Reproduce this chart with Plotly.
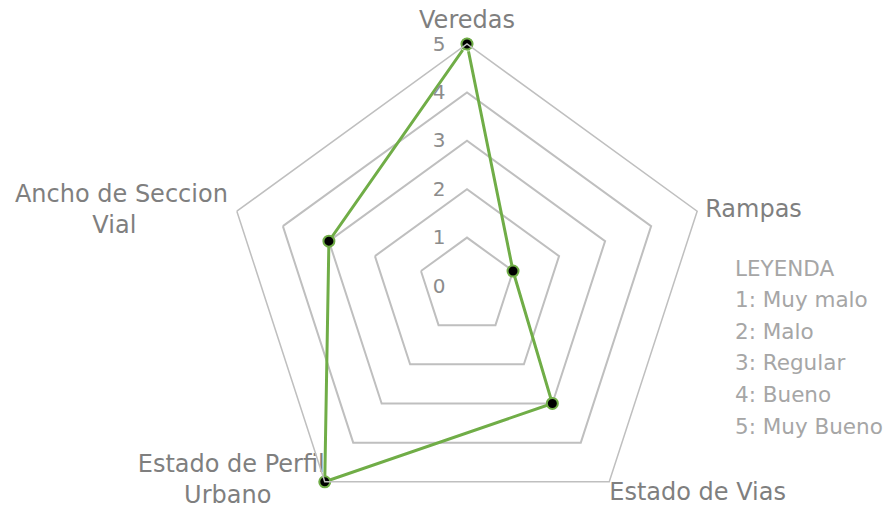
import plotly.graph_objects as go

categories = ["Veredas", "Rampas", "Estado de Vias", "Estado de Perfil Urbano", "Ancho de Seccion Vial"]
category_labels = ["Veredas", "Rampas", "Estado de Vias",
                   "Estado de Perfil<br>" + "\u00a0" * 7 + "Urbano" + "\u00a0" * 7,
                   "Ancho de Seccion<br>" + "\u00a0" * 12 + "Vial" + "\u00a0" * 12]
values = [5, 1, 3, 5, 3]
radial_ticks = [0, 1, 2, 3, 4, 5]
legend_lines = ["LEYENDA", "1: Muy malo", "2: Malo", "3: Regular", "4: Bueno", "5: Muy Bueno"]

# label styling (offsets from the outer vertices)
label_positions = ["top center", "middle right", "bottom right", "middle left", "middle left"]
label_pad_sizes = [14.4, 11.2, 0, 0, 12.8]

W, H = 892, 530
FONT = "DejaVu Sans"
GREEN = "#70AD47"
GRID = "#BFBFBF"
RMAX = radial_ticks[-1]

fig = go.Figure()
fig.add_trace(go.Scatterpolar(
    r=values + values[:1],
    theta=categories + categories[:1],
    mode="lines+markers",
    line=dict(color=GREEN, width=3),
    marker=dict(color="black", size=11, line=dict(color=GREEN, width=2)),
    showlegend=False,
    hoverinfo="skip",
    cliponaxis=False,
))
fig.add_trace(go.Scatterpolar(
    r=[RMAX] * len(categories),
    theta=categories,
    mode="markers+text",
    text=category_labels,
    textposition=label_positions,
    marker=dict(size=label_pad_sizes, color="rgba(0,0,0,0)"),
    textfont=dict(family=FONT, size=24, color="#7F7F7F"),
    showlegend=False,
    hoverinfo="skip",
    cliponaxis=False,
))

cx, cy, R = 459, 278, 242
fig.update_layout(
    width=W, height=H,
    margin=dict(l=0, r=0, t=0, b=0),
    paper_bgcolor="white",
    plot_bgcolor="white",
    polar=dict(
        domain=dict(x=[(cx - R) / W, (cx + R) / W], y=[(H - cy - R) / H, (H - cy + R) / H]),
        gridshape="linear",
        bgcolor="white",
        radialaxis=dict(
            range=[0, RMAX],
            tickvals=radial_ticks,
            ticktext=[str(t) for t in radial_ticks],
            angle=90,
            tickangle=90,
            side="counterclockwise",
            showline=False,
            showgrid=True,
            gridcolor=GRID,
            gridwidth=1.5,
            ticks="outside",
            ticklen=14,
            tickcolor="rgba(0,0,0,0)",
            tickfont=dict(family=FONT, size=20, color="#8C8C8C"),
        ),
        angularaxis=dict(
            direction="clockwise",
            rotation=90,
            showgrid=False,
            showline=True,
            linecolor=GRID,
            linewidth=1.5,
            ticks="",
            showticklabels=False,
        ),
    ),
)

y0, step = 260, 31.6
for i, txt in enumerate(legend_lines):
    fig.add_annotation(
        text=txt, xref="paper", yref="paper",
        x=725 / W, y=1 - (y0 + i * step) / H,
        xanchor="left", yanchor="middle", showarrow=False,
        font=dict(family=FONT, size=21.5, color="#A6A6A6"),
    )

fig.write_html("out.html")
